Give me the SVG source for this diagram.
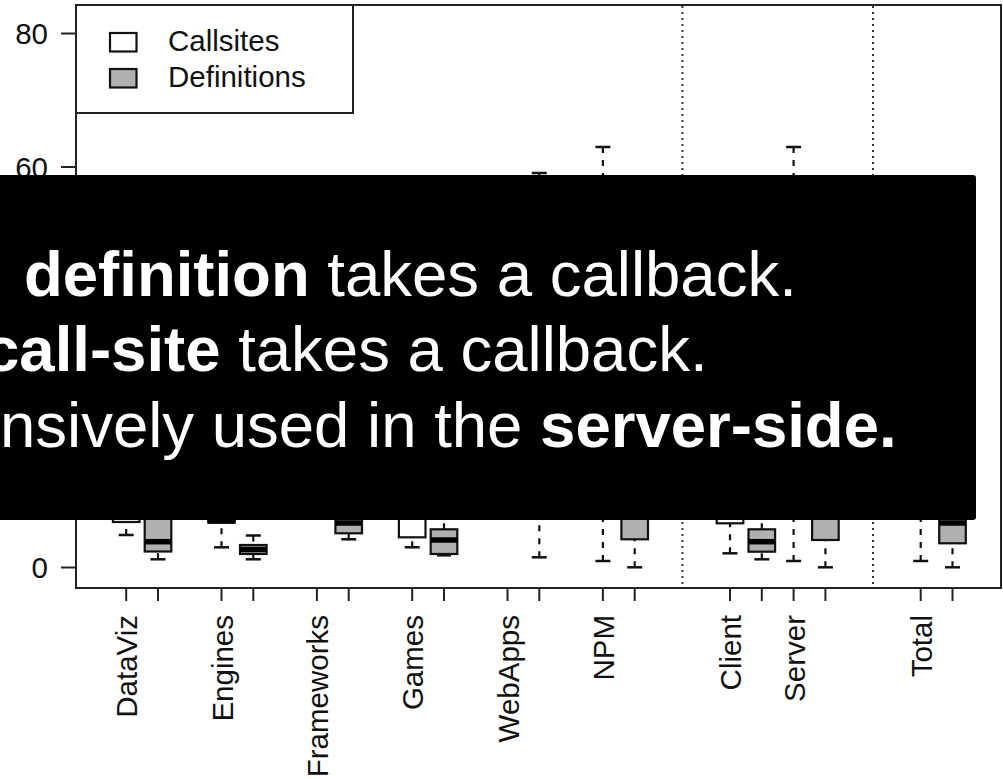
<svg xmlns="http://www.w3.org/2000/svg" width="1003" height="779" viewBox="0 0 1003 779">
<style>
.frame{fill:none;stroke:#222;stroke-width:2}
.tick{stroke:#222;stroke-width:2}
.lab{font-family:"Liberation Sans",Arial,Helvetica,sans-serif;font-size:29.5px;fill:#111}
.bw{fill:#fff;stroke:#111;stroke-width:2.2}
.bg{fill:#b0b0b0;stroke:#111;stroke-width:2.2}
.med{stroke:#000;stroke-width:5.5}
.wh{stroke:#111;stroke-width:2.2;stroke-dasharray:6 7;fill:none}
.cap{stroke:#111;stroke-width:2.5}
.sep{stroke:#333;stroke-width:2;stroke-dasharray:2 4}
.ov{font-family:"Liberation Sans",Arial,Helvetica,sans-serif;font-size:63.5px;fill:#fff}
</style>
<rect width="1003" height="779" fill="#fff"/>
<g id="separators">
<line class="sep" x1="682.4" y1="6" x2="682.4" y2="587"/>
<line class="sep" x1="873" y1="6" x2="873" y2="587"/>
</g>
<g id="boxes">
<line class="wh" x1="126.2" y1="535" x2="126.2" y2="522"/>
<line class="cap" x1="118.7" y1="535" x2="133.7" y2="535"/>
<rect class="bw" x="112.9" y="480" width="26.6" height="42"/>
<line class="wh" x1="158" y1="559.3" x2="158" y2="551.5"/>
<line class="cap" x1="150.5" y1="559.3" x2="165.5" y2="559.3"/>
<rect class="bg" x="144.7" y="480" width="26.6" height="71.5"/>
<line class="med" x1="144.7" y1="541.7" x2="171.3" y2="541.7"/>
<line class="wh" x1="221.5" y1="547.3" x2="221.5" y2="522.5"/>
<line class="cap" x1="214" y1="547.3" x2="229" y2="547.3"/>
<rect class="bw" x="208.2" y="480" width="26.6" height="42.5"/>
<line class="med" x1="208.2" y1="521" x2="234.8" y2="521"/>
<line class="wh" x1="253.3" y1="535.5" x2="253.3" y2="545"/>
<line class="cap" x1="245.8" y1="535.5" x2="260.8" y2="535.5"/>
<line class="wh" x1="253.3" y1="559.3" x2="253.3" y2="554"/>
<line class="cap" x1="245.8" y1="559.3" x2="260.8" y2="559.3"/>
<rect class="bg" x="240" y="545" width="26.6" height="9"/>
<line class="med" x1="240" y1="549.5" x2="266.6" y2="549.5"/>
<line class="wh" x1="348.7" y1="539.3" x2="348.7" y2="533.3"/>
<line class="cap" x1="341.2" y1="539.3" x2="356.2" y2="539.3"/>
<rect class="bg" x="335.4" y="480" width="26.6" height="53.3"/>
<line class="med" x1="335.4" y1="523" x2="362" y2="523"/>
<line class="wh" x1="412.2" y1="547.3" x2="412.2" y2="537.3"/>
<line class="cap" x1="404.7" y1="547.3" x2="419.7" y2="547.3"/>
<rect class="bw" x="398.9" y="480" width="26.6" height="57.3"/>
<line class="wh" x1="444" y1="529.3" x2="444" y2="470"/>
<line class="cap" x1="437" y1="555.3" x2="451" y2="555.3"/>
<rect class="bg" x="430.7" y="529.3" width="26.6" height="24.7"/>
<line class="med" x1="430.7" y1="540" x2="457.3" y2="540"/>
<line class="wh" x1="539.3" y1="557.3" x2="539.3" y2="480"/>
<line class="cap" x1="531.8" y1="557.3" x2="546.8" y2="557.3"/>
<line class="wh" x1="539.3" y1="173" x2="539.3" y2="230"/>
<line class="cap" x1="531.8" y1="173" x2="546.8" y2="173"/>
<line class="wh" x1="602.9" y1="561" x2="602.9" y2="480"/>
<line class="cap" x1="595.4" y1="561" x2="610.4" y2="561"/>
<line class="wh" x1="602.9" y1="147" x2="602.9" y2="230"/>
<line class="cap" x1="595.4" y1="147" x2="610.4" y2="147"/>
<line class="wh" x1="634.7" y1="567.3" x2="634.7" y2="539.3"/>
<line class="cap" x1="627.2" y1="567.3" x2="642.2" y2="567.3"/>
<rect class="bg" x="621.4" y="480" width="26.6" height="59.3"/>
<line class="wh" x1="730" y1="553.3" x2="730" y2="523.3"/>
<line class="cap" x1="722.5" y1="553.3" x2="737.5" y2="553.3"/>
<rect class="bw" x="716.7" y="480" width="26.6" height="43.3"/>
<line class="wh" x1="761.8" y1="529.3" x2="761.8" y2="470"/>
<line class="wh" x1="761.8" y1="559.3" x2="761.8" y2="551.7"/>
<line class="cap" x1="754.3" y1="559.3" x2="769.3" y2="559.3"/>
<rect class="bg" x="748.5" y="529.3" width="26.6" height="22.4"/>
<line class="med" x1="748.5" y1="541.7" x2="775.1" y2="541.7"/>
<line class="wh" x1="793.6" y1="561" x2="793.6" y2="480"/>
<line class="cap" x1="786.1" y1="561" x2="801.1" y2="561"/>
<line class="wh" x1="793.6" y1="147" x2="793.6" y2="230"/>
<line class="cap" x1="786.1" y1="147" x2="801.1" y2="147"/>
<line class="wh" x1="825.4" y1="567.3" x2="825.4" y2="540"/>
<line class="cap" x1="817.9" y1="567.3" x2="832.9" y2="567.3"/>
<rect class="bg" x="812.1" y="480" width="26.6" height="60"/>
<line class="wh" x1="920.7" y1="561" x2="920.7" y2="480"/>
<line class="cap" x1="913.2" y1="561" x2="928.2" y2="561"/>
<line class="wh" x1="952.5" y1="567.3" x2="952.5" y2="543.3"/>
<line class="cap" x1="945" y1="567.3" x2="960" y2="567.3"/>
<rect class="bg" x="939.2" y="480" width="26.6" height="63.3"/>
<line class="med" x1="939.2" y1="523" x2="965.8" y2="523"/>
</g>
<g id="axes">
<rect class="frame" x="76" y="5" width="925" height="583"/>
<line class="tick" x1="61" y1="567.5" x2="76" y2="567.5"/>
<line class="tick" x1="61" y1="167" x2="76" y2="167"/>
<line class="tick" x1="61" y1="33.5" x2="76" y2="33.5"/>
<text class="lab" x="48" y="578" text-anchor="end">0</text>
<text class="lab" x="48" y="177.5" text-anchor="end">60</text>
<text class="lab" x="48" y="44" text-anchor="end">80</text>
<g class="tick">
<line x1="126.2" y1="588" x2="126.2" y2="601"/>
<line x1="158" y1="588" x2="158" y2="601"/>
<line x1="221.5" y1="588" x2="221.5" y2="601"/>
<line x1="253.3" y1="588" x2="253.3" y2="601"/>
<line x1="316.9" y1="588" x2="316.9" y2="601"/>
<line x1="348.7" y1="588" x2="348.7" y2="601"/>
<line x1="412.2" y1="588" x2="412.2" y2="601"/>
<line x1="444" y1="588" x2="444" y2="601"/>
<line x1="507.5" y1="588" x2="507.5" y2="601"/>
<line x1="539.3" y1="588" x2="539.3" y2="601"/>
<line x1="602.9" y1="588" x2="602.9" y2="601"/>
<line x1="634.7" y1="588" x2="634.7" y2="601"/>
<line x1="730" y1="588" x2="730" y2="601"/>
<line x1="761.8" y1="588" x2="761.8" y2="601"/>
<line x1="793.6" y1="588" x2="793.6" y2="601"/>
<line x1="825.4" y1="588" x2="825.4" y2="601"/>
<line x1="920.7" y1="588" x2="920.7" y2="601"/>
<line x1="952.5" y1="588" x2="952.5" y2="601"/>
</g>
<text class="lab" text-anchor="end" transform="translate(137.2,615) rotate(-90)">DataViz</text>
<text class="lab" text-anchor="end" transform="translate(232.5,615) rotate(-90)">Engines</text>
<text class="lab" text-anchor="end" transform="translate(327.9,615) rotate(-90)">Frameworks</text>
<text class="lab" text-anchor="end" transform="translate(423.2,615) rotate(-90)">Games</text>
<text class="lab" text-anchor="end" transform="translate(518.5,615) rotate(-90)">WebApps</text>
<text class="lab" text-anchor="end" transform="translate(613.9,615) rotate(-90)">NPM</text>
<text class="lab" text-anchor="end" transform="translate(741,615) rotate(-90)">Client</text>
<text class="lab" text-anchor="end" transform="translate(804.6,615) rotate(-90)">Server</text>
<text class="lab" text-anchor="end" transform="translate(931.7,615) rotate(-90)">Total</text>
</g>
<g id="legend">
<rect class="frame" x="76" y="5" width="277" height="108" style="fill:#fff"/>
<rect class="bw" x="110" y="33" width="26.5" height="18.5"/>
<rect class="bg" x="110" y="69" width="26.5" height="18.5"/>
<text class="lab" x="168" y="51">Callsites</text>
<text class="lab" x="168" y="87">Definitions</text>
</g>
<g id="overlay">
<rect x="-10" y="175" width="986" height="345" rx="3" fill="#000"/>
<text class="ov" x="24" y="296"><tspan font-weight="bold">definition</tspan> takes a callback.</text>
<text class="ov" x="-16" y="371"><tspan font-weight="bold">call-site</tspan> takes a callback.</text>
<text class="ov" x="0" y="447">nsively used in the <tspan font-weight="bold">server-side.</tspan></text>
</g>
</svg>
